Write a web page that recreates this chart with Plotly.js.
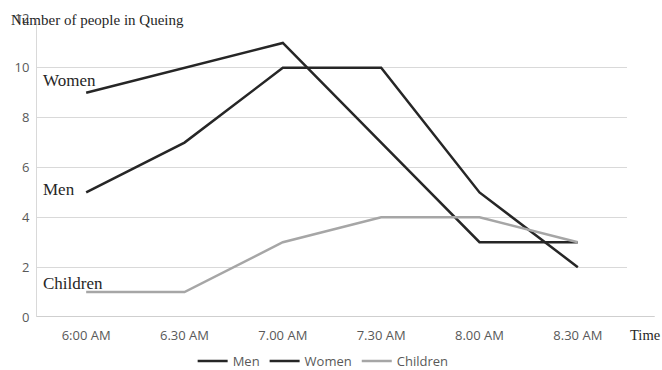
<!DOCTYPE html>
<html>
<head>
<meta charset="utf-8">
<script src="https://cdn.plot.ly/plotly-3.0.1.min.js"></script>
<style>
  html, body { margin: 0; padding: 0; background: #fff; }
  #chart { width: 662px; height: 370px; }
</style>
</head>
<body>
<div id="chart"></div>
<script>
// Queue counts by time of morning
const times = ['6:00 AM', '6.30 AM', '7.00 AM', '7.30 AM', '8.00 AM', '8.30 AM'];
const men = [5, 7, 10, 10, 5, 2];
const women = [9, 10, 11, 7, 3, 3];
const children = [1, 1, 3, 4, 4, 3];
const yTicks = [0, 2, 4, 6, 8, 10, 12];

const dark = '#262626';
const light = '#a6a6a6';
const serif = 'Liberation Serif, Times New Roman, serif';
const sans = 'Open Sans, Liberation Sans, sans-serif';

function series(name, values, color) {
  return {
    type: 'scatter', mode: 'lines', name: name,
    x: times, y: values,
    line: { color: color, width: 2.5 },
    hoverinfo: 'skip'
  };
}

const data = [
  series('Men', men, dark),
  series('Women', women, dark),
  series('Children', children, light)
];

const layout = {
  width: 662, height: 370,
  margin: { l: 37, r: 35, t: 18, b: 53, autoexpand: false },
  paper_bgcolor: '#fff', plot_bgcolor: '#fff',
  showlegend: true,
  legend: {
    orientation: 'h', x: 0.485, xanchor: 'center',
    yref: 'paper', y: -0.147, yanchor: 'middle',
    font: { family: sans, size: 13, color: '#595959' },
    itemwidth: 30, tracegroupgap: 0
  },
  xaxis: {
    type: 'category',
    showgrid: false, zeroline: false, showline: false,
    ticks: '', ticklabelstandoff: 9,
    tickfont: { family: sans, size: 13, color: '#595959' },
    range: [-0.5, 5.5]
  },
  yaxis: {
    range: [0, 12], tickvals: yTicks,
    showgrid: true, gridcolor: '#d9d9d9', gridwidth: 1,
    zeroline: false, showline: true, linecolor: '#d9d9d9', linewidth: 1,
    ticks: '', ticklabelstandoff: 4,
    tickfont: { family: sans, size: 13, color: '#595959' }
  },
  shapes: [
    { type: 'line', xref: 'paper', yref: 'y', x0: 0, x1: 1.047, y0: 0, y1: 0,
      line: { color: '#bfbfbf', width: 1.5 } }
  ],
  annotations: [
    { text: 'Number of people in Queing', xref: 'paper', yref: 'paper',
      x: -0.047, y: 0.993, xanchor: 'left', yanchor: 'middle', showarrow: false,
      font: { family: serif, size: 15, color: '#262626' } },
    { text: 'Time', xref: 'paper', yref: 'paper', x: 1.002, y: -0.06,
      xanchor: 'left', yanchor: 'middle', showarrow: false,
      font: { family: serif, size: 14.5, color: '#262626' } },
    { text: 'Women', xref: 'paper', yref: 'y', x: 0.006, y: 9.5,
      xanchor: 'left', yanchor: 'middle', showarrow: false,
      font: { family: serif, size: 17, color: '#262626' } },
    { text: 'Men', xref: 'paper', yref: 'y', x: 0.006, y: 5.1,
      xanchor: 'left', yanchor: 'middle', showarrow: false,
      font: { family: serif, size: 17, color: '#262626' } },
    { text: 'Children', xref: 'paper', yref: 'y', x: 0.006, y: 1.35,
      xanchor: 'left', yanchor: 'middle', showarrow: false,
      font: { family: serif, size: 17, color: '#262626' } }
  ]
};

Plotly.newPlot('chart', data, layout, { staticPlot: true, displayModeBar: false });
</script>
</body>
</html>
